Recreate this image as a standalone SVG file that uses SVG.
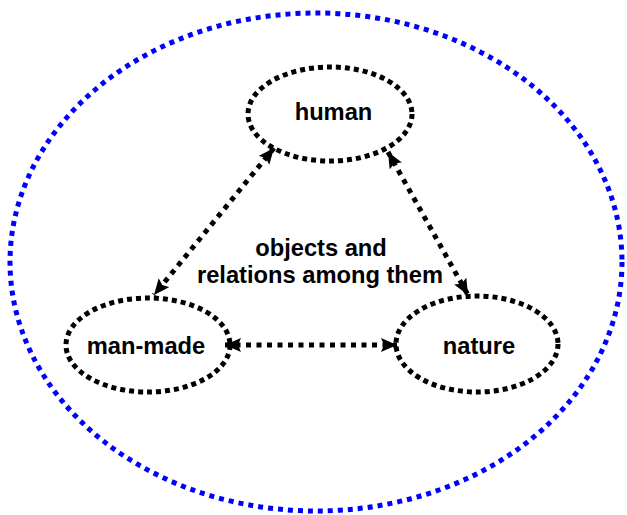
<svg xmlns="http://www.w3.org/2000/svg" width="627" height="515" viewBox="0 0 627 515">
  <style>
    .outer { fill: none; stroke: #0000ff; stroke-width: 5; stroke-dasharray: 5 5; }
    .node { fill: none; stroke: #000; stroke-width: 5; stroke-dasharray: 5 4; }
    .link { fill: none; stroke: #000; stroke-width: 5; stroke-dasharray: 5 5.5; }
    .label { font-family: "Liberation Sans", Arial, sans-serif; font-weight: bold; font-size: 23.7px; fill: #000; }
  </style>
  <defs>
    <marker id="head" viewBox="0 0 16 14" refX="16" refY="7" markerWidth="16" markerHeight="14" markerUnits="userSpaceOnUse" orient="auto-start-reverse">
      <path d="M0,0 L16,7 L0,14 L3,7 Z" fill="#000"/>
    </marker>
  </defs>
  <rect width="627" height="515" fill="#fff"/>

  <g id="domain">
    <ellipse class="outer" cx="316" cy="262" rx="306" ry="249"/>
  </g>

  <g id="connectors">
    <line class="link" x1="274" y1="148" x2="154" y2="295" marker-start="url(#head)" marker-end="url(#head)"/>
    <line class="link" x1="388" y1="152" x2="468" y2="295" marker-start="url(#head)" marker-end="url(#head)"/>
    <line class="link" x1="225" y1="345" x2="397" y2="345" marker-start="url(#head)" marker-end="url(#head)"/>
  </g>

  <g id="human">
    <ellipse class="node" cx="330" cy="114" rx="82" ry="47"/>
    <text class="label" x="333.5" y="120" text-anchor="middle">human</text>
  </g>

  <g id="man-made">
    <ellipse class="node" cx="148" cy="345" rx="82" ry="47"/>
    <text class="label" x="146" y="354" text-anchor="middle">man-made</text>
  </g>

  <g id="nature">
    <ellipse class="node" cx="477" cy="344" rx="81" ry="48"/>
    <text class="label" x="479" y="354" text-anchor="middle">nature</text>
  </g>

  <g id="caption">
    <text class="label" x="321" y="256" text-anchor="middle">objects and</text>
    <text class="label" x="320" y="283" text-anchor="middle">relations among them</text>
  </g>
</svg>
